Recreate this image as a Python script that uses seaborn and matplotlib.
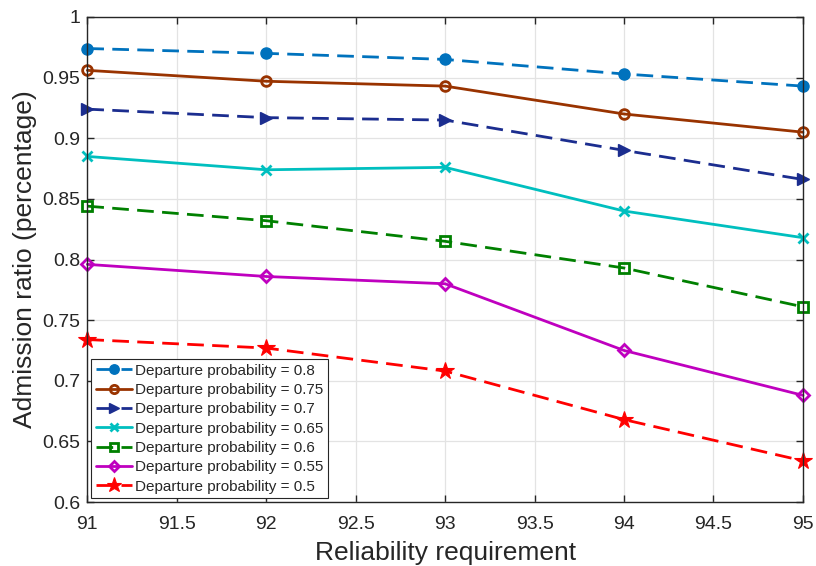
import numpy as np
import pandas as pd
import seaborn as sns
import matplotlib.pyplot as plt
from matplotlib.ticker import FuncFormatter

# reliability requirement (x axis)
reliability = [91, 92, 93, 94, 95]

# admission ratio for each departure probability
ratio_080 = [0.974, 0.970, 0.965, 0.953, 0.943]
ratio_075 = [0.956, 0.947, 0.943, 0.920, 0.905]
ratio_070 = [0.924, 0.917, 0.915, 0.890, 0.866]
ratio_065 = [0.885, 0.874, 0.876, 0.840, 0.818]
ratio_060 = [0.844, 0.832, 0.815, 0.793, 0.761]
ratio_055 = [0.796, 0.786, 0.780, 0.725, 0.688]
ratio_050 = [0.734, 0.727, 0.708, 0.668, 0.634]

labels = ["Departure probability = 0.8",
          "Departure probability = 0.75",
          "Departure probability = 0.7",
          "Departure probability = 0.65",
          "Departure probability = 0.6",
          "Departure probability = 0.55",
          "Departure probability = 0.5"]
series = [ratio_080, ratio_075, ratio_070, ratio_065, ratio_060, ratio_055, ratio_050]

# style per series: color, marker, dashed?, filled marker?
styles = [
    ("#0072BD", "o", True, True),
    ("#993300", "o", False, False),
    ("#1B2D8F", ">", True, True),
    ("#00BFBF", "x", False, True),
    ("#008000", "s", True, False),
    ("#BF00BF", "D", False, False),
    ("#FF0000", "*", True, True),
]

sns.set_theme(style="whitegrid")
plt.rcParams['font.family'] = ['Liberation Sans', 'DejaVu Sans']

fig, ax = plt.subplots(figsize=(8.16, 5.66), dpi=100)
fig.subplots_adjust(left=0.107, right=0.984, top=0.970, bottom=0.113)

for lab, vals, (col, mk, dashed, filled) in zip(labels, series, styles):
    df = pd.DataFrame({"x": reliability, "y": vals})
    kw = dict(color=col, marker=mk, linewidth=2, markersize=7,
              markeredgewidth=2, markeredgecolor=col, label=lab, clip_on=False)
    if not filled:
        kw["markerfacecolor"] = "none"
    else:
        kw["markerfacecolor"] = col
    if mk == "*":
        kw["markersize"] = 13
        kw["markeredgewidth"] = 0.8
    if mk == ">":
        kw["markersize"] = 8
        kw["markeredgewidth"] = 1
    if mk == "o" and filled:
        kw["markeredgewidth"] = 1
        kw["markersize"] = 8
    if mk == "D":
        kw["markersize"] = 6
    sns.lineplot(data=df, x="x", y="y", ax=ax, **kw)
    if dashed:
        ax.lines[-1].set_dashes((6, 3))

ax.set_xlim(91, 95)
ax.set_ylim(0.6, 1.0)
ax.set_xticks(np.arange(91, 95.01, 0.5))
ax.set_yticks(np.arange(0.6, 1.001, 0.05))
fmt = FuncFormatter(lambda v, p: "%g" % round(v, 3))
ax.xaxis.set_major_formatter(fmt)
ax.yaxis.set_major_formatter(fmt)
ax.tick_params(direction="in", length=5, width=1, labelsize=14, colors="#262626",
               top=True, right=True, bottom=True, left=True, pad=5)
ax.tick_params(axis="x", pad=10)
ax.grid(True, color="#e3e3e3", linewidth=0.9)
ax.set_axisbelow(True)
for s in ax.spines.values():
    s.set_color("#262626")
    s.set_linewidth(1)

ax.set_xlabel("Reliability requirement", fontsize=19, color="#262626", labelpad=6)
ax.set_ylabel("Admission ratio (percentage)", fontsize=19, color="#262626", labelpad=4)

leg = ax.legend(loc="lower left", fontsize=11, frameon=True, fancybox=False,
                edgecolor="#262626", framealpha=1, borderaxespad=0.25,
                handlelength=2.4, labelspacing=0.35, borderpad=0.3,
                handletextpad=0.2, markerscale=0.85)
leg.get_frame().set_linewidth(0.8)

fig.savefig("out.png", dpi=100)
